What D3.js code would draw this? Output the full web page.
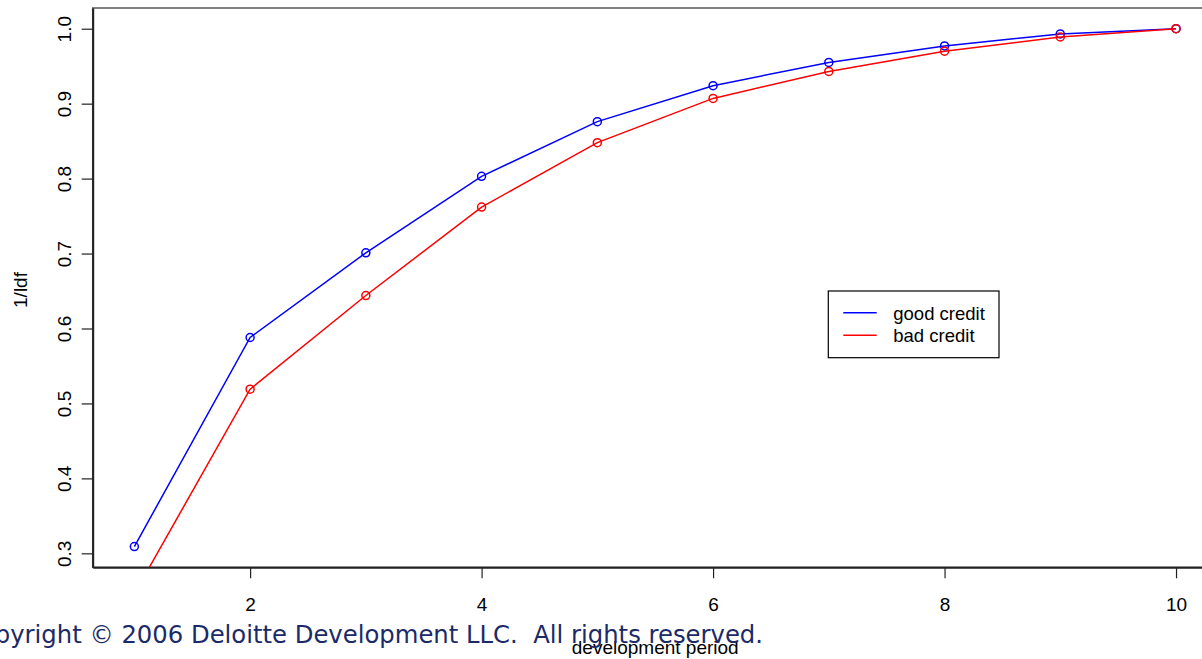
<!DOCTYPE html>
<html>
<head>
<meta charset="utf-8">
<script src="https://cdn.jsdelivr.net/npm/d3@7"></script>
<style>
  body { margin: 0; background: #fff; overflow: hidden; }
  svg { display: block; }
  .tick text { font-family: "Liberation Sans", Arial, sans-serif; }
</style>
</head>
<body>
<svg width="1202" height="659"></svg>
<script>
// development periods
var periods = [1, 2, 3, 4, 5, 6, 7, 8, 9, 10];

// 1/ldf by credit group
var goodCredit = [0.309, 0.588, 0.701, 0.803, 0.876, 0.924, 0.955, 0.977, 0.993, 1.0];
var badCredit  = [0.246, 0.519, 0.644, 0.762, 0.848, 0.907, 0.943, 0.970, 0.989, 1.0];

var seriesNames = ['good credit', 'bad credit'];
var seriesColors = ['#0000ff', '#ff0000'];

var xTicks = [2, 4, 6, 8, 10];
var yTicks = [0.3, 0.4, 0.5, 0.6, 0.7, 0.8, 0.9, 1.0];

var svg = d3.select('svg');
var plotL = 92.7, plotR = 1217.7, plotT = 8, plotB = 567.3;

// R style 4% padding of the axis range
function pad(ext) {
  var d = (ext[1] - ext[0]) * 0.04;
  return [ext[0] - d, ext[1] + d];
}

var x = d3.scaleLinear().domain(pad(d3.extent(periods))).range([plotL, plotR]);
var y = d3.scaleLinear().domain(pad([d3.min(goodCredit), 1])).range([plotB, plotT]);

svg.append('clipPath').attr('id', 'plotclip')
  .append('rect')
    .attr('x', plotL).attr('y', plotT)
    .attr('width', plotR - plotL).attr('height', plotB - plotT);

// frame
svg.append('rect')
    .attr('x', plotL).attr('y', plotT)
    .attr('width', plotR - plotL).attr('height', plotB - plotT)
    .attr('fill', 'none')
    .attr('stroke', '#555')
    .attr('stroke-width', 1.5);

// x axis
var xAxis = svg.append('g')
    .attr('transform', 'translate(0,' + plotB + ')')
    .call(d3.axisBottom(x).tickValues(xTicks).tickSize(11).tickSizeOuter(0).tickPadding(19).tickFormat(d3.format('d')));
xAxis.select('.domain').attr('stroke', '#222').attr('stroke-width', 2);
xAxis.selectAll('.tick line').attr('stroke', '#222').attr('stroke-width', 1.2);
xAxis.selectAll('.tick text').attr('font-size', 19).attr('fill', '#000');

// y axis
var yAxis = svg.append('g')
    .attr('transform', 'translate(' + plotL + ',0)')
    .call(d3.axisLeft(y).tickValues(yTicks).tickSize(11).tickSizeOuter(0).tickFormat(d3.format('.1f')));
yAxis.select('.domain').attr('stroke', '#222').attr('stroke-width', 2);
yAxis.selectAll('.tick line').attr('stroke', '#222').attr('stroke-width', 1.2);
yAxis.selectAll('.tick text')
    .attr('font-size', 19).attr('fill', '#000')
    .attr('x', null).attr('dy', null)
    .attr('text-anchor', 'middle')
    .attr('transform', 'translate(-22,0) rotate(-90)');

// axis titles
svg.append('text')
    .attr('x', (plotL + plotR) / 2).attr('y', 654)
    .attr('text-anchor', 'middle')
    .attr('font-family', '"Liberation Sans", Arial, sans-serif')
    .attr('font-size', 19)
    .text('development period');

svg.append('text')
    .attr('transform', 'translate(27,290) rotate(-90)')
    .attr('text-anchor', 'middle')
    .attr('font-family', '"Liberation Sans", Arial, sans-serif')
    .attr('font-size', 19)
    .text('1/ldf');

// series
var line = d3.line().x(function(d, i) { return x(periods[i]); }).y(function(d) { return y(d); });
var plot = svg.append('g').attr('clip-path', 'url(#plotclip)');

[goodCredit, badCredit].forEach(function(vals, k) {
  plot.append('path')
      .attr('d', line(vals))
      .attr('fill', 'none')
      .attr('stroke', seriesColors[k])
      .attr('stroke-width', 1.5);
  plot.selectAll('circle.s' + k).data(vals).enter().append('circle')
      .attr('class', 's' + k)
      .attr('cx', function(d, i) { return x(periods[i]); })
      .attr('cy', function(d) { return y(d); })
      .attr('r', 4)
      .attr('fill', 'none')
      .attr('stroke', seriesColors[k])
      .attr('stroke-width', 1.5);
});

// legend
var legend = svg.append('g');
legend.append('rect')
    .attr('x', 828.3).attr('y', 291)
    .attr('width', 170.7).attr('height', 66.7)
    .attr('fill', '#fff').attr('stroke', '#000').attr('stroke-width', 1.2);
seriesNames.forEach(function(name, k) {
  var ly = 312.7 + k * 22.6;
  legend.append('line')
      .attr('x1', 843.3).attr('x2', 876.7)
      .attr('y1', ly).attr('y2', ly)
      .attr('stroke', seriesColors[k]).attr('stroke-width', 1.5);
  legend.append('text')
      .attr('x', 893.3).attr('y', ly + 7)
      .attr('font-family', '"Liberation Sans", Arial, sans-serif')
      .attr('font-size', 18.5)
      .text(name);
});

// slide footer
svg.append('text')
    .attr('x', 763).attr('y', 643)
    .attr('text-anchor', 'end')
    .attr('font-family', '"DejaVu Sans", Verdana, sans-serif')
    .attr('font-size', 24.3)
    .attr('fill', '#1b2a68')
    .style('white-space', 'pre')
    .text('Copyright \u00a9 2006 Deloitte Development LLC.  All rights reserved.');
</script>
</body>
</html>
